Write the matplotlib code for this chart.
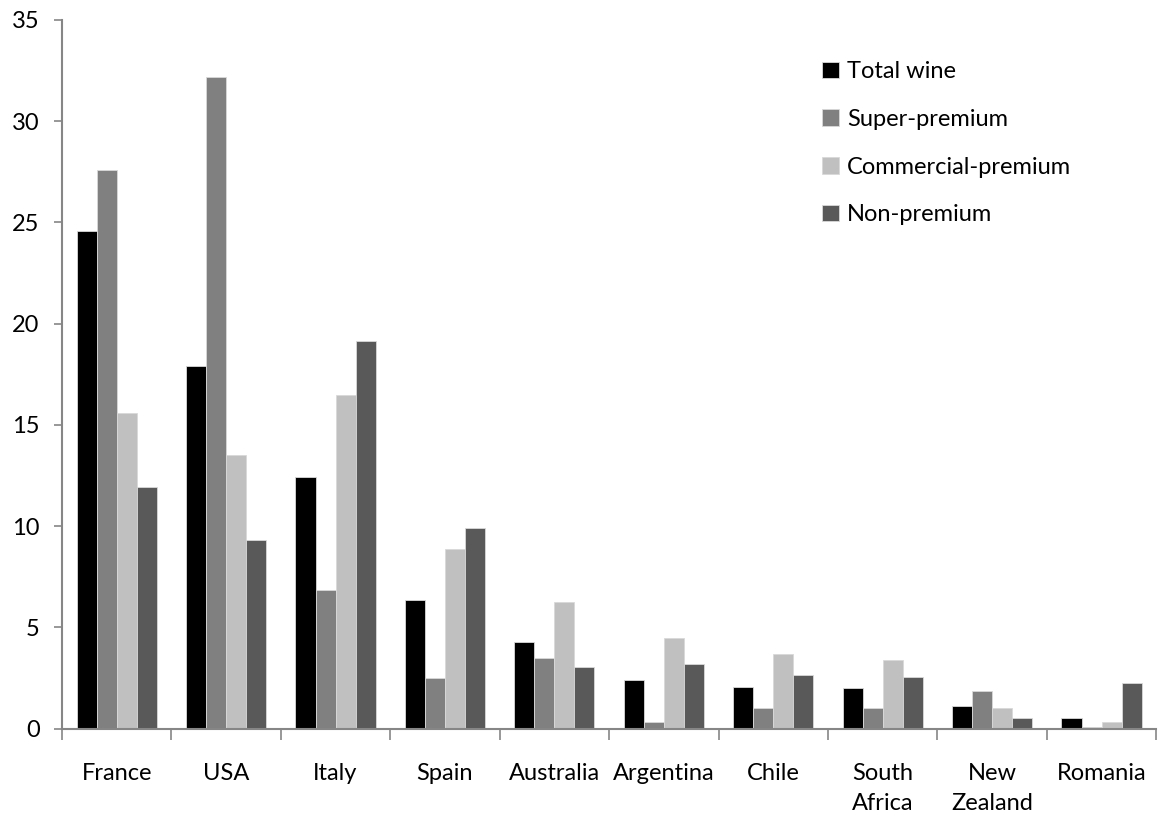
import numpy as np
import matplotlib
matplotlib.use("Agg")
import matplotlib.pyplot as plt

plt.rcParams['font.family'] = ['Lato', 'DejaVu Sans']

countries = ['France', 'USA', 'Italy', 'Spain', 'Australia', 'Argentina',
             'Chile', 'South\nAfrica', 'New\nZealand', 'Romania']
total_wine = [24.6, 17.9, 12.4, 6.35, 4.28, 2.4, 2.06, 2.02, 1.1, 0.52]
super_premium = [27.6, 32.2, 6.85, 2.5, 3.47, 0.31, 1.0, 1.03, 1.85, 0.06]
commercial_premium = [15.57, 13.5, 16.48, 8.87, 6.25, 4.48, 3.67, 3.37, 1.01, 0.32]
non_premium = [11.95, 9.32, 19.12, 9.92, 3.06, 3.17, 2.63, 2.55, 0.52, 2.25]

series = [('Total wine', total_wine, '#000000'),
          ('Super-premium', super_premium, '#808080'),
          ('Commercial-premium', commercial_premium, '#c0c0c0'),
          ('Non-premium', non_premium, '#595959')]

fig = plt.figure(figsize=(11.58, 8.18), dpi=100)
ax = fig.add_axes([0.0535, 0.1094, 0.945, 0.8662])

x = np.arange(len(countries))
w = 0.183
for i, (name, vals, col) in enumerate(series):
    ax.bar(x + (i - 1.5) * w, vals, w, color=col, label=name,
           edgecolor='#d9d9d9', linewidth=0.6)

axis_col = '#868686'
fs = 17
ax.set_xlim(-0.5, len(countries) - 0.5)
ax.set_ylim(0, 35)
ax.set_yticks(np.arange(0, 36, 5))
ax.set_xticks(x)
ax.set_xticklabels(countries, fontsize=fs, linespacing=1.5, va='top')
ax.set_xticks(np.arange(-0.5, len(countries), 1), minor=True)
ax.tick_params(axis='x', which='major', length=0, pad=25)
ax.tick_params(axis='x', which='minor', length=8, width=1.2, color=axis_col)
ax.tick_params(axis='y', length=6, width=1.2, color=axis_col, labelsize=fs, pad=10)
for s in ['top', 'right']:
    ax.spines[s].set_visible(False)
for s in ['left', 'bottom']:
    ax.spines[s].set_color(axis_col)
    ax.spines[s].set_linewidth(1.5)

fig.legend(loc='upper left', bbox_to_anchor=(801 / 1158, 1 - 40 / 818),
           bbox_transform=fig.transFigure, frameon=False, fontsize=fs,
           handlelength=0.7, handleheight=0.7, handletextpad=0.35,
           labelspacing=1.13)

fig.savefig('out.png', dpi=100)
